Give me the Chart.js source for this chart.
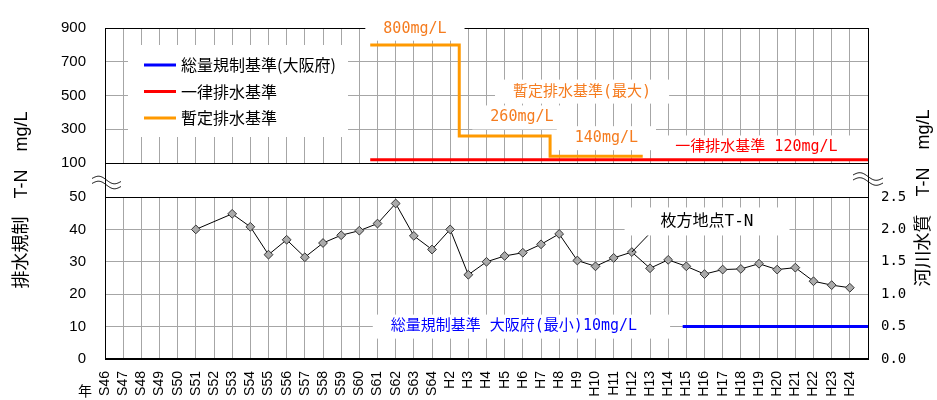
<!DOCTYPE html>
<html>
<head>
<meta charset="utf-8">
<script src="https://cdn.jsdelivr.net/npm/chart.js@4/dist/chart.umd.min.js"></script>
<style>
  html, body { margin: 0; padding: 0; background: #fff; }
  #wrap { position: relative; width: 937px; height: 400px; }
  #wrap canvas { position: absolute; left: 0; top: 0; }
</style>
</head>
<body>
<div id="wrap">
  <canvas id="lower" width="937" height="400"></canvas>
  <canvas id="upper" width="937" height="400"></canvas>
</div>
<script>
// Fiscal years on the x axis (last slot is an empty margin position)
const years = ['S46','S47','S48','S49','S50','S51','S52','S53','S54','S55','S56','S57','S58','S59','S60','S61','S62','S63','S64',
  'H2','H3','H4','H5','H6','H7','H8','H9','H10','H11','H12','H13','H14','H15','H16','H17','H18','H19','H20','H21','H22','H23','H24',''];

// River water quality at Hirakata, T-N (mg/L), one value per year
const hirakataTN = [null,null,null,null,null,2.00,null,2.24,2.04,1.61,1.84,1.57,1.79,1.91,1.98,2.09,2.40,1.90,1.69,
  2.00,1.30,1.50,1.59,1.64,1.77,1.93,1.52,1.43,1.56,1.65,1.40,1.53,1.43,1.31,1.38,1.39,1.47,1.38,1.41,1.20,1.14,1.10];

// Provisional effluent standard (maximum), step changes by year position
const interimYears = [14.6, 19.5, 24.5, 29.6];
const interimLimit = [800, 260, 140, 140];

// Uniform effluent standard
const uniformYears = [14.6, 42];
const uniformLimit = [120, 120];

// Total load control standard, Osaka (minimum)
const totalYears = [31.8, 42];
const totalLimit = [10, 10];

// Tick values
const upperTicks = [100, 300, 500, 700, 900];
const lowerLeftTicks = [0, 10, 20, 30, 40, 50];
const lowerRightTicks = [0, 0.5, 1.0, 1.5, 2.0, 2.5];

const legendLabels = ['総量規制基準(大阪府)', '一律排水基準', '暫定排水基準'];

const BLUE = '#0000ff', RED = '#ff0000', ORANGE = '#ff9900', ORANGE_TEXT = '#f57c1f';
const GRID = '#a6a6a6';
const SANS = "'Liberation Sans', Arial, 'Noto Sans CJK JP', sans-serif";
const MONO = "'DejaVu Sans Mono', 'Noto Sans CJK JP', monospace";
const CJK = "'Noto Sans CJK JP', sans-serif";

const toPoints = (xs, ys) => xs.map((x, i) => ({ x, y: ys[i] }));

function boxedText(ctx, text, cx, cy, font, color, padL, padR, padY) {
  ctx.save();
  ctx.font = font;
  const w = ctx.measureText(text).width;
  ctx.fillStyle = '#fff';
  ctx.fillRect(cx - w / 2 - padL, cy - padY, w + padL + padR, padY * 2);
  ctx.fillStyle = color;
  ctx.textAlign = 'center';
  ctx.textBaseline = 'middle';
  ctx.fillText(text, cx, cy);
  ctx.restore();
}

function drawFrame(chart, bottomWidth) {
  const { ctx, chartArea: a } = chart;
  ctx.save();
  ctx.strokeStyle = '#000';
  ctx.lineWidth = 1;
  ctx.strokeRect(a.left + 0.5, a.top + 0.5, a.right - a.left, a.bottom - a.top);
  if (bottomWidth > 1) {
    ctx.lineWidth = bottomWidth;
    ctx.beginPath();
    ctx.moveTo(a.left, a.bottom);
    ctx.lineTo(a.right + 1, a.bottom);
    ctx.stroke();
  }
  ctx.restore();
}

// Text labels in the upper panel (x in year positions, y in mg/L)
const upperNotes = [
  { text: '800mg/L', x: 17.06, y: 896, color: ORANGE_TEXT },
  { text: '暫定排水基準(最大)', x: 26.26, y: 523, color: ORANGE_TEXT },
  { text: '260mg/L', x: 22.95, y: 370, color: ORANGE_TEXT },
  { text: '140mg/L', x: 27.6, y: 247, color: ORANGE_TEXT },
  { text: '一律排水基準 120mg/L', x: 35.86, y: 192, color: RED }
];

const upperDecor = {
  id: 'upperDecor',
  beforeDatasetsDraw(chart) {
    drawFrame(chart, 1);
    const { ctx, chartArea: a, scales } = chart;
    upperNotes.forEach(n => {
      boxedText(ctx, n.text, scales.x.getPixelForValue(n.x), scales.y.getPixelForValue(n.y),
        '15px ' + MONO, n.color, 18, 18, 12);
    });
    // legend box
    const left = a.left + 23, top = a.top + 17;
    ctx.save();
    ctx.fillStyle = '#fff';
    ctx.fillRect(left, top, 220, 92);
    const colors = [BLUE, RED, ORANGE];
    ctx.font = '16px ' + CJK;
    ctx.textBaseline = 'middle';
    ctx.textAlign = 'left';
    legendLabels.forEach((lab, i) => {
      const yy = top + 20 + i * 26.5;
      ctx.strokeStyle = colors[i];
      ctx.lineWidth = 3;
      ctx.beginPath();
      ctx.moveTo(left + 16, yy);
      ctx.lineTo(left + 48, yy);
      ctx.stroke();
      ctx.fillStyle = '#000';
      ctx.fillText(lab, left + 53, yy);
    });
    ctx.restore();
  }
};

function drawWave(ctx, x0, y0, w, amp, tilt) {
  ctx.beginPath();
  for (let i = 0; i <= 40; i++) {
    const t = i / 40;
    const x = x0 + t * w;
    const y = y0 + tilt * t - amp * Math.sin(2 * Math.PI * t);
    if (i === 0) ctx.moveTo(x, y); else ctx.lineTo(x, y);
  }
  ctx.stroke();
}

const lowerDecor = {
  id: 'lowerDecor',
  beforeDatasetsDraw(chart) { drawFrame(chart, 2); },
  afterDraw(chart) {
    const { ctx, chartArea: a, scales } = chart;
    const xs = scales.x, yl = scales.yLeft, yr = scales.yRight;

    // leader line from the Hirakata label to the H12 point
    const px = xs.getPixelForValue(29), py = yr.getPixelForValue(hirakataTN[29]);
    ctx.save();
    ctx.strokeStyle = '#000';
    ctx.lineWidth = 1;
    ctx.beginPath();
    ctx.moveTo(px, py);
    ctx.lineTo(xs.getPixelForValue(30.55), yl.getPixelForValue(42.0));
    ctx.stroke();
    ctx.restore();
    boxedText(ctx, '枚方地点T-N', xs.getPixelForValue(33.14), yl.getPixelForValue(42.45),
      '16px ' + MONO, '#000', 36, 36, 14);
    boxedText(ctx, '総量規制基準 大阪府(最小)10mg/L', xs.getPixelForValue(22.51), yl.getPixelForValue(10),
      '15px ' + MONO, BLUE, 18, 33, 12);

    // axis titles
    ctx.save();
    ctx.fillStyle = '#000';
    ctx.font = '18px ' + SANS;
    ctx.textAlign = 'center';
    ctx.textBaseline = 'middle';
    ctx.translate(22, 200);
    ctx.rotate(-Math.PI / 2);
    ctx.fillText('排水規制　T-N　mg/L', 0, 0);
    ctx.restore();
    ctx.save();
    ctx.fillStyle = '#000';
    ctx.font = '18px ' + SANS;
    ctx.textAlign = 'center';
    ctx.textBaseline = 'middle';
    ctx.translate(924, 198);
    ctx.rotate(-Math.PI / 2);
    ctx.fillText('河川水質　T-N　mg/L', 0, 0);
    ctx.restore();

    // year caption
    ctx.save();
    ctx.fillStyle = '#000';
    ctx.font = '14px ' + CJK;
    ctx.textAlign = 'center';
    ctx.textBaseline = 'middle';
    ctx.fillText('年', a.left - 20, 391);
    ctx.restore();

    // axis lines across the gap between the panels, with break marks
    ctx.save();
    ctx.strokeStyle = '#000';
    ctx.lineWidth = 1;
    ctx.beginPath();
    ctx.moveTo(a.left + 0.5, 163);
    ctx.lineTo(a.left + 0.5, a.top);
    ctx.moveTo(a.right + 0.5, 163);
    ctx.lineTo(a.right + 0.5, a.top);
    ctx.stroke();
    drawWave(ctx, a.left - 13, 178.5, 29, 3, 3);
    drawWave(ctx, a.left - 13, 183.5, 29, 3, 3);
    drawWave(ctx, a.right - 15, 175, 30, 3, 3);
    drawWave(ctx, a.right - 15, 180, 30, 3, 3);
    ctx.restore();
  }
};

new Chart(document.getElementById('lower'), {
  type: 'line',
  data: {
    datasets: [
      {
        label: '枚方地点T-N',
        data: hirakataTN.map((v, i) => ({ x: i, y: v })),
        yAxisID: 'yRight',
        borderColor: '#000',
        borderWidth: 1,
        spanGaps: true,
        pointStyle: 'rectRot',
        pointRadius: 4.4,
        pointBackgroundColor: '#aaaaaa',
        pointBorderColor: '#333333',
        pointBorderWidth: 1
      },
      {
        label: legendLabels[0],
        data: toPoints(totalYears, totalLimit),
        yAxisID: 'yLeft',
        borderColor: BLUE,
        borderWidth: 3,
        pointRadius: 0
      }
    ]
  },
  options: {
    responsive: false,
    animation: false,
    events: [],
    layout: { padding: { left: 0, right: 0, top: 197, bottom: 0 } },
    plugins: { legend: { display: false }, tooltip: { enabled: false } },
    scales: {
      x: {
        type: 'linear', min: 0, max: 42,
        afterBuildTicks: s => { s.ticks = years.map((_, i) => ({ value: i })); },
        ticks: {
          autoSkip: false, minRotation: 90, maxRotation: 90, padding: 12,
          color: '#000', font: { family: SANS, size: 14 },
          callback: v => years[v]
        },
        grid: { color: GRID, drawTicks: false },
        border: { display: false },
        afterFit: s => { s.height = 41; }
      },
      yLeft: {
        position: 'left', min: 0, max: 50,
        afterBuildTicks: s => { s.ticks = lowerLeftTicks.map(v => ({ value: v })); },
        ticks: { padding: 19, color: '#000', font: { family: SANS, size: 15 } },
        grid: { color: GRID, drawTicks: false },
        border: { display: false },
        afterFit: s => { s.width = 105; }
      },
      yRight: {
        position: 'right', min: 0, max: 2.5,
        afterBuildTicks: s => { s.ticks = lowerRightTicks.map(v => ({ value: v })); },
        ticks: { padding: 13, color: '#000', font: { family: MONO, size: 14 }, callback: v => Number(v).toFixed(1) },
        grid: { drawOnChartArea: false, drawTicks: false },
        border: { display: false },
        afterFit: s => { s.width = 69; }
      }
    }
  },
  plugins: [lowerDecor]
});

new Chart(document.getElementById('upper'), {
  type: 'line',
  data: {
    datasets: [
      {
        label: legendLabels[2],
        data: toPoints(interimYears, interimLimit),
        borderColor: ORANGE,
        borderWidth: 3,
        stepped: 'before',
        pointRadius: 0
      },
      {
        label: legendLabels[1],
        data: toPoints(uniformYears, uniformLimit),
        borderColor: RED,
        borderWidth: 3,
        pointRadius: 0
      }
    ]
  },
  options: {
    responsive: false,
    animation: false,
    events: [],
    layout: { padding: { left: 0, right: 69, top: 18, bottom: 237 } },
    plugins: { legend: { display: false }, tooltip: { enabled: false } },
    scales: {
      x: {
        type: 'linear', min: 0, max: 42,
        afterBuildTicks: s => { s.ticks = years.map((_, i) => ({ value: i })); },
        ticks: { display: false },
        grid: { color: GRID, drawTicks: false },
        border: { display: false },
        afterFit: s => { s.height = 0; }
      },
      y: {
        min: 100, max: 900,
        afterBuildTicks: s => { s.ticks = upperTicks.map(v => ({ value: v })); },
        ticks: { padding: 19, color: '#000', font: { family: SANS, size: 15 } },
        grid: { color: GRID, drawTicks: false },
        border: { display: false },
        afterFit: s => { s.width = 105; }
      }
    }
  },
  plugins: [upperDecor]
});
</script>
</body>
</html>
